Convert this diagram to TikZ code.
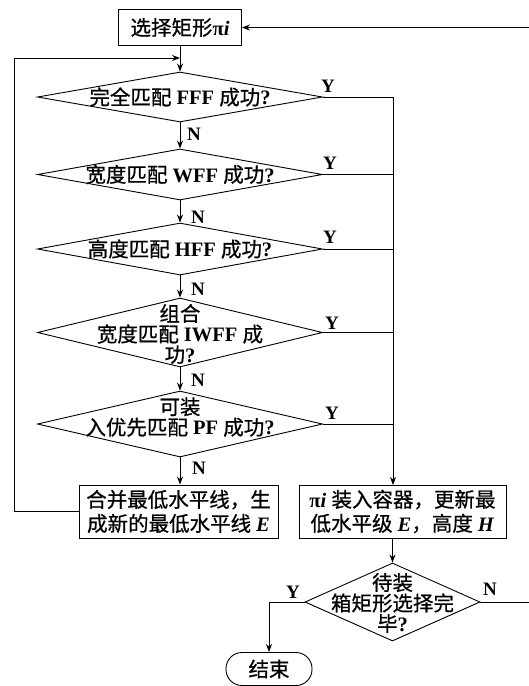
\documentclass[tikz,border=0pt]{standalone}
\usepackage{fontspec}
\setmainfont{Liberation Serif}
\newfontfamily\cjk{Noto Sans CJK SC}[FakeBold=0.7]
\newcommand\zh[1]{{\cjk\mdseries #1}}
\usetikzlibrary{shapes.geometric,arrows.meta}
\begin{document}
\begin{tikzpicture}[x=1pt,y=1pt,
  line width=0.9pt,
  >={Stealth[length=8pt,width=6pt]},
  base/.style={font=\fontsize{20.5}{20.5}\selectfont\bfseries, inner sep=0pt, align=center},
  proc/.style={draw, rectangle, inner sep=0pt, font=\fontsize{20.5}{24}\selectfont\bfseries, align=center},
  dia/.style={draw, diamond, inner sep=0pt},
  lbl/.style={font=\fontsize{19}{19}\selectfont\bfseries, inner sep=0pt},
  term/.style={draw, rectangle, rounded corners=16pt, inner sep=0pt, font=\fontsize{20.5}{20.5}\selectfont\bfseries}
]
\useasboundingbox (0,0) rectangle (528,-686);
% nodes
\node[proc, minimum width=123pt, minimum height=36pt] (sel) at (180,-27.5) {\zh{选择矩形}π\textit{i}};
\node[dia, minimum width=285pt, minimum height=50pt] (d1) at (180,-97) {};
\node[base] (t1) at (180,-97) {\zh{完全匹配} FFF \zh{成功}?};
\node[dia, minimum width=285pt, minimum height=51pt] (d2) at (180,-174.5) {};
\node[base] (t2) at (180,-174.5) {\zh{宽度匹配} WFF \zh{成功}?};
\node[dia, minimum width=285pt, minimum height=52pt] (d3) at (180,-249) {};
\node[base] (t3) at (180,-249) {\zh{高度匹配} HFF \zh{成功}?};
\node[dia, minimum width=285pt, minimum height=69pt] (d4) at (180,-332.5) {};
\node[base] (t4) at (180,-334) {\zh{组合}\\\zh{宽度匹配} IWFF \zh{成}\\\zh{功}?};
\node[dia, minimum width=285pt, minimum height=66pt] (d5) at (180,-424) {};
\node[base] (t5) at (180,-417) {\zh{可装}\\\zh{入优先匹配} PF \zh{成功}?};
\node[proc, minimum width=199pt, minimum height=53pt] (lb) at (178.5,-511.5) {\zh{合并最低水平线，生}\\\zh{成新的最低水平线} \textit{E}};
\node[proc, minimum width=207pt, minimum height=53pt] (rb) at (402.5,-511.5) {π\textit{i} \zh{装入容器，更新最}\\\zh{低水平级} \textit{E}\zh{，高度} \textit{H}};
\node[dia, minimum width=175pt, minimum height=78pt] (d6) at (392.5,-602) {};
\node[base] (t6) at (392.5,-603) {\zh{待装}\\\zh{箱矩形选择完}\\\zh{毕}?};
\node[term, minimum width=86pt, minimum height=33pt] (end) at (269,-669) {\zh{结束}};
% labels
\node[lbl] (y1) at (328,-86) {Y};
\node[lbl] (y2) at (330,-163) {Y};
\node[lbl] (y3) at (330,-237) {Y};
\node[lbl] (y4) at (332,-323) {Y};
\node[lbl] (y5) at (332,-413) {Y};
\node[lbl] (n1) at (194,-134) {N};
\node[lbl] (n2) at (198,-217) {N};
\node[lbl] (n3) at (198,-289) {N};
\node[lbl] (n4) at (198,-380) {N};
\node[lbl] (n5) at (199,-468) {N};
\node[lbl] (y6) at (293,-592) {Y};
\node[lbl] (n6) at (490,-589) {N};
% coordinates
\coordinate (lp) at (14,-58);
\coordinate (j1) at (180,-58);
\coordinate (rtb) at (393,-485);
\coordinate (rc) at (531,-27.5);
% connectors
\draw[->] (sel) -- (d1);
\draw[->] (d1) -- (d2);
\draw[->] (d2) -- (d3);
\draw[->] (d3) -- (d4);
\draw[->] (d4) -- (d5);
\draw[->] (d5) -- (lb.north -| d5.south);
\draw[->] (lb.west) -| (lp) -- (j1);
\draw[->] (d1.east) -| (rtb);
\draw (d2.east) -- (d2.east -| rtb);
\draw (d3.east) -- (d3.east -| rtb);
\draw (d4.east) -- (d4.east -| rtb);
\draw (d5.east) -- (d5.east -| rtb);
\draw[->] (rb.south -| d6.north) -- (d6.north);
\draw[->] (d6.west) -| (end.north);
\draw[->] (d6.east) -| (rc) -- (sel.east);
\end{tikzpicture}
\end{document}
